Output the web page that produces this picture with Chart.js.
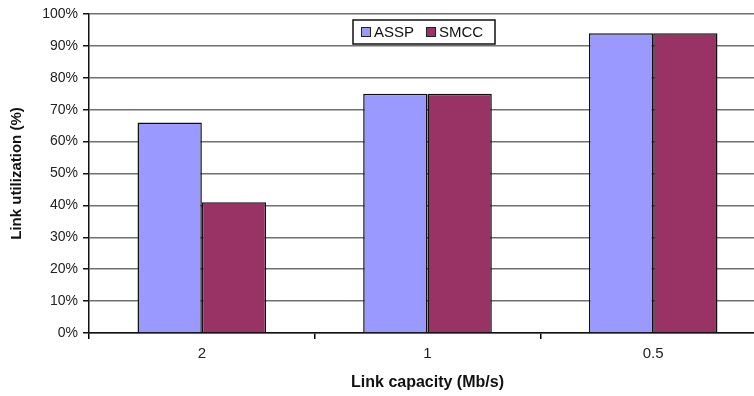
<!DOCTYPE html>
<html>
<head>
<meta charset="utf-8">
<script src="https://cdn.jsdelivr.net/npm/chart.js@4/dist/chart.umd.min.js"></script>
<style>
  html, body { margin: 0; padding: 0; background: #fff; overflow: hidden; }
  #wrap { width: 766px; height: 396px; }
</style>
</head>
<body>
<div id="wrap"><canvas id="chart" width="766" height="396"></canvas></div>
<script>
// Link capacity (Mb/s) categories
const capacities = ["2", "1", "0.5"];
// Link utilization in percent
const asspValues = [66, 75, 94];
const smccValues = [41, 75, 94];
const yTicks = [0, 10, 20, 30, 40, 50, 60, 70, 80, 90, 100];

const FONT = "'Liberation Sans', Arial, sans-serif";

// draws the boxed legend inside the plot, like the original figure
const boxLegend = {
    id: "boxLegend",
    afterDraw(chart) {
        const ctx = chart.ctx;
        const x = 353, y = 20, w = 142, h = 24;
        ctx.save();
        ctx.fillStyle = "#fff";
        ctx.fillRect(x, y, w, h);
        ctx.strokeStyle = "#111";
        ctx.lineWidth = 1.5;
        ctx.strokeRect(x, y, w, h);
        ctx.font = "15px " + FONT;
        ctx.textBaseline = "middle";
        let cx = x + 8;
        chart.data.datasets.forEach((ds) => {
            ctx.fillStyle = ds.backgroundColor;
            ctx.fillRect(cx, y + 7, 10, 10);
            ctx.lineWidth = 1;
            ctx.strokeStyle = "#222";
            ctx.strokeRect(cx + 0.5, y + 7.5, 9, 9);
            ctx.fillStyle = "#111";
            ctx.fillText(ds.label, cx + 13, y + h / 2 + 1);
            cx += 13 + ctx.measureText(ds.label).width + 12;
        });
        ctx.restore();
    }
};

new Chart(document.getElementById("chart"), {
    type: "bar",
    data: {
        labels: capacities,
        datasets: [
            {
                label: "ASSP",
                data: asspValues,
                backgroundColor: "#9999FF",
                borderColor: "#111",
                borderWidth: 1.5,
            },
            {
                label: "SMCC",
                data: smccValues,
                backgroundColor: "#993366",
                borderColor: "#111",
                borderWidth: 1.5,
            },
        ],
    },
    options: {
        responsive: false,
        animation: false,
        layout: { padding: { top: 14, right: 0, bottom: 0, left: 4 } },
        datasets: { bar: { barPercentage: 1, categoryPercentage: 0.57 } },
        plugins: {
            legend: { display: false },
            tooltip: { enabled: false },
        },
        scales: {
            x: {
                offset: true,
                grid: { offset: true, drawOnChartArea: false, drawTicks: true, tickLength: 6, color: "#000", lineWidth: 1.5 },
                border: { color: "#111", width: 1.5 },
                ticks: { color: "#222", font: { size: 15, family: FONT }, padding: 6 },
                title: {
                    display: true,
                    text: "Link capacity (Mb/s)",
                    color: "#111",
                    font: { size: 16, weight: "bold", family: FONT },
                    padding: { top: 4 },
                },
                afterFit(scale) { scale.height = 63; },
            },
            y: {
                min: 0,
                max: 100,
                afterBuildTicks(scale) { scale.ticks = yTicks.map((v) => ({ value: v })); },
                grid: { color: "#707070", lineWidth: 1.5, tickLength: 6, tickColor: "#111" },
                border: { color: "#111", width: 1.5 },
                ticks: {
                    color: "#222",
                    font: { size: 14, family: FONT },
                    padding: 5,
                    callback: (v) => v + "%",
                },
                title: {
                    display: true,
                    text: "Link utilization (%)",
                    color: "#111",
                    font: { size: 15, weight: "bold", family: FONT },
                    padding: { bottom: 4 },
                },
                afterFit(scale) { scale.width = 85; },
            },
        },
    },
    plugins: [boxLegend],
});
</script>
</body>
</html>
